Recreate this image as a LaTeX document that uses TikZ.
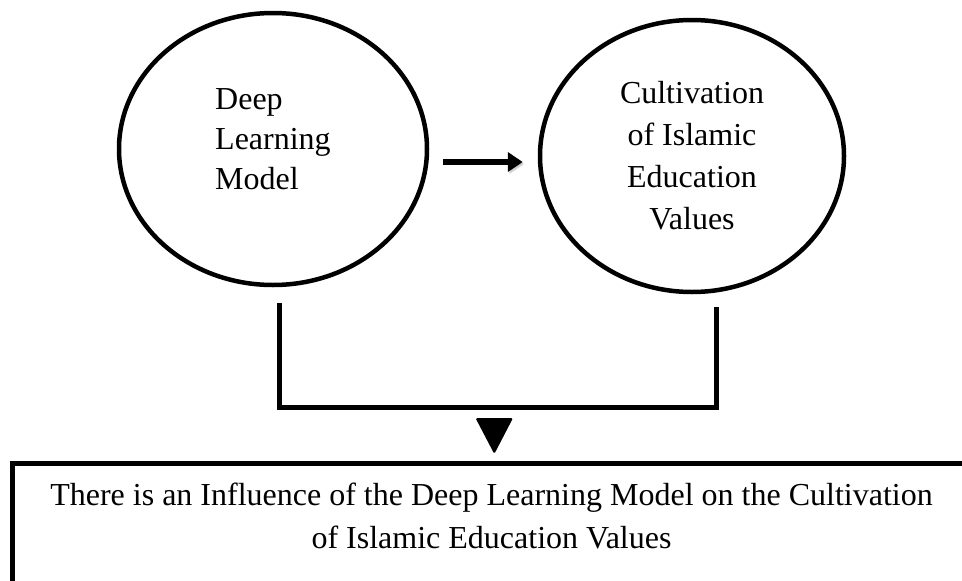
\documentclass[tikz,border=0pt]{standalone}
\usepackage{fontspec}
\setmainfont{Liberation Serif}
\usetikzlibrary{arrows.meta,shapes.geometric,calc}

\begin{document}
\begin{tikzpicture}[x=1pt,y=-1pt,
    bubble/.style={draw,line width=4.5pt,ellipse,inner sep=0pt,minimum width=308pt,minimum height=272pt},
    bubtxt/.style={font=\fontsize{32}{#1}\selectfont,inner sep=0pt},
    drop/.style={preaction={draw=black!35,opacity=.5,transform canvas={xshift=1.5pt,yshift=-2pt}}},
    link/.style={drop,line width=6pt,-{Triangle[length=15pt,width=19pt]}},
    bracket/.style={drop,line width=5pt,line join=miter}]
    \useasboundingbox[fill=white] (0,0) rectangle (962,581);

    \node[bubble] (dlm) at (273,149) {};
    \node[bubble,minimum width=304pt] (civ) at (692,156) {};
    \node[bubtxt=40,align=left,anchor=west] (dlmtxt) at (215,139) {Deep\\Learning\\Model};
    \node[bubtxt=42,align=center] (civtxt) at (692,155.5) {Cultivation\\of Islamic\\Education\\Values};

    \draw[link] ([xshift=14pt,yshift=-13pt]dlm.east) -- ([xshift=-15pt,yshift=-6pt]civ.west);

    \coordinate (brkL) at (279,303);
    \coordinate (brkR) at (716.5,307);
    \coordinate (brkB) at (494.3,407);
    \draw[bracket] (brkL) |- (brkB) -| (brkR);
    \fill[rounded corners=1.5pt] (475.5,418) -- (513,418) -- (494.3,454) -- cycle;

    \node[draw,line width=5pt,inner sep=0pt,minimum width=977.5pt,minimum height=121pt] (res) at (501.25,524) {};
    \node[bubtxt=43,align=center] (restxt) at (491.5,515.5) {There is an Influence of the Deep Learning Model on the Cultivation\\of Islamic Education Values};
\end{tikzpicture}
\end{document}
